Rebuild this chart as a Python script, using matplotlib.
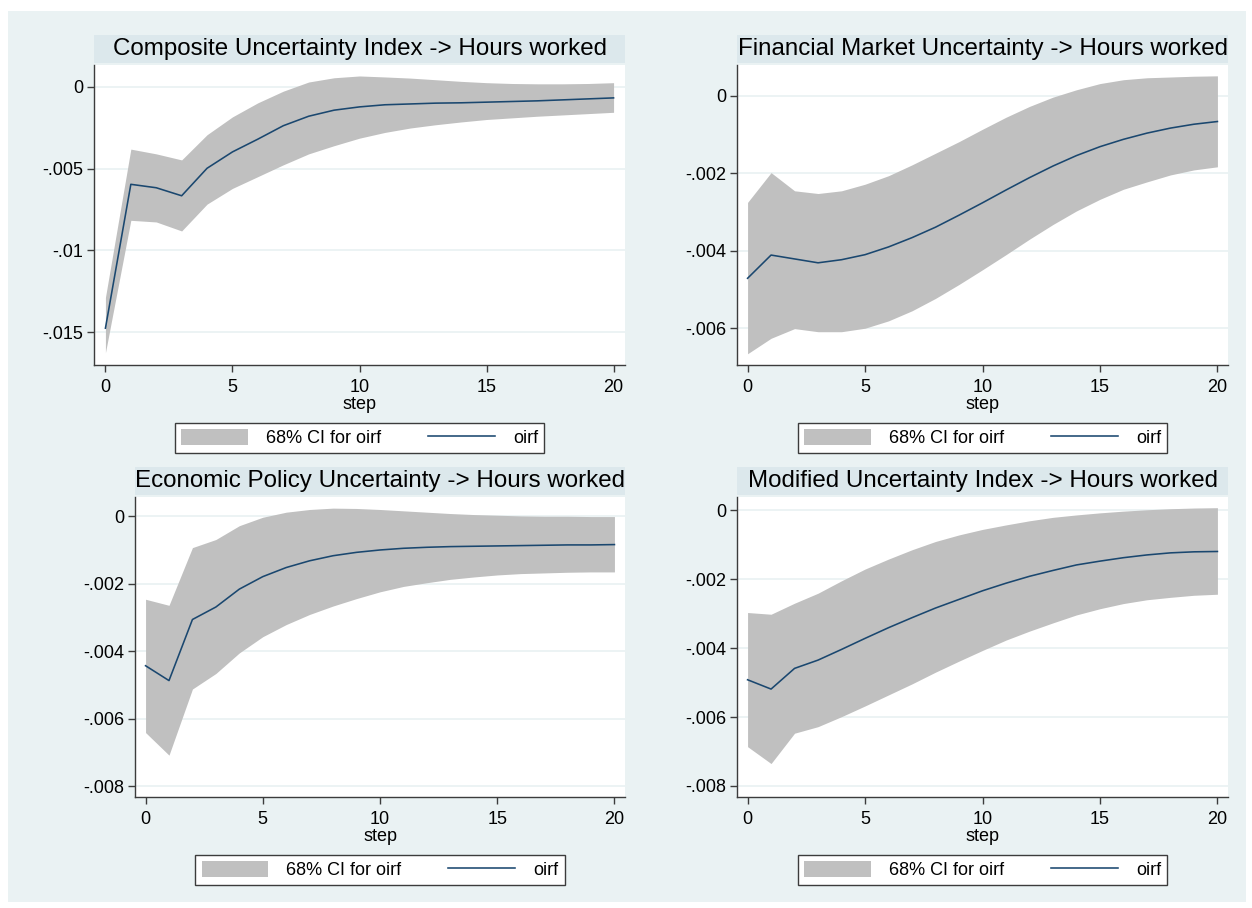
import numpy as np
import matplotlib.pyplot as plt
from matplotlib.patches import Rectangle
from matplotlib.ticker import FuncFormatter

plt.rcParams['font.family'] = ['Liberation Sans', 'DejaVu Sans']

steps = list(range(21))

titles = ['Composite Uncertainty Index -> Hours worked',
          'Financial Market Uncertainty -> Hours worked',
          'Economic Policy Uncertainty -> Hours worked',
          'Modified Uncertainty Index -> Hours worked']

# composite uncertainty index
oirf_cui = [-0.01475, -0.00596, -0.00617, -0.00666, -0.00498, -0.00398, -0.0032, -0.00238, -0.0018, -0.00143,
            -0.00123, -0.0011, -0.00105, -0.001, -0.00098, -0.00094, -0.0009, -0.00086, -0.0008, -0.00074, -0.00068]
upper_cui = [-0.01287, -0.00381, -0.0041, -0.00447, -0.00293, -0.00184, -0.00098, -0.00027, 0.00029, 0.00055,
             0.00066, 0.0006, 0.00053, 0.00043, 0.00033, 0.00025, 0.0002, 0.00018, 0.00018, 0.0002, 0.00025]
lower_cui = [-0.01625, -0.00816, -0.00826, -0.00881, -0.00717, -0.00621, -0.00549, -0.00477, -0.0041, -0.0036,
             -0.00314, -0.00279, -0.00252, -0.00232, -0.00215, -0.002, -0.0019, -0.0018, -0.00172, -0.00164, -0.00156]

# financial market uncertainty
oirf_fmu = [-0.00471, -0.00411, -0.00421, -0.00431, -0.00423, -0.0041, -0.0039, -0.00366, -0.00339, -0.00308,
            -0.00276, -0.00243, -0.00211, -0.00181, -0.00154, -0.00131, -0.00112, -0.00096, -0.00083, -0.00073, -0.00066]
upper_fmu = [-0.00275, -0.00198, -0.00245, -0.00252, -0.00245, -0.00228, -0.00206, -0.00178, -0.00148, -0.00118,
             -0.00086, -0.00055, -0.00027, -0.00003, 0.00016, 0.00032, 0.00042, 0.00047, 0.00049, 0.00051, 0.00052]
lower_fmu = [-0.00666, -0.00626, -0.00601, -0.00609, -0.00609, -0.006, -0.00581, -0.00555, -0.00523, -0.00487,
             -0.00449, -0.0041, -0.0037, -0.00332, -0.00297, -0.00267, -0.00241, -0.00222, -0.00204, -0.00191, -0.00183]

# economic policy uncertainty
oirf_epu = [-0.00443, -0.00487, -0.00306, -0.00269, -0.00216, -0.00179, -0.00152, -0.00132, -0.00117, -0.00107,
            -0.001, -0.00095, -0.00092, -0.0009, -0.00089, -0.00088, -0.00087, -0.00086, -0.00085, -0.00085, -0.00084]
upper_epu = [-0.00246, -0.00264, -0.00093, -0.00069, -0.00028, -0.00003, 0.00012, 0.0002, 0.00024, 0.00023,
             0.0002, 0.00016, 0.00012, 0.00008, 0.00005, 0.00003, 0.00001, 0.0, 0.0, -0.00001, -0.00001]
lower_epu = [-0.00641, -0.00708, -0.00512, -0.00466, -0.00405, -0.00357, -0.00321, -0.00291, -0.00266, -0.00244,
             -0.00224, -0.00208, -0.00197, -0.00187, -0.0018, -0.00174, -0.0017, -0.00168, -0.00166, -0.00165, -0.00165]

# modified uncertainty index
oirf_mui = [-0.00492, -0.00519, -0.00459, -0.00435, -0.00404, -0.00372, -0.00341, -0.00312, -0.00284, -0.00259,
            -0.00234, -0.00212, -0.00192, -0.00175, -0.00159, -0.00148, -0.00138, -0.0013, -0.00124, -0.00121, -0.0012]
upper_mui = [-0.00297, -0.00302, -0.0027, -0.00241, -0.00205, -0.00171, -0.00142, -0.00115, -0.00091, -0.00072,
             -0.00056, -0.00043, -0.00031, -0.00021, -0.00014, -0.00008, -0.00003, 0.00001, 0.00004, 0.00006, 0.00007]
lower_mui = [-0.00686, -0.00735, -0.00647, -0.00628, -0.00599, -0.00568, -0.00536, -0.00504, -0.0047, -0.00438,
             -0.00407, -0.00377, -0.00351, -0.00327, -0.00304, -0.00286, -0.00271, -0.0026, -0.00253, -0.00247, -0.00244]

oirfs = [oirf_cui, oirf_fmu, oirf_epu, oirf_mui]
uppers = [upper_cui, upper_fmu, upper_epu, upper_mui]
lowers = [lower_cui, lower_fmu, lower_epu, lower_mui]
yticks = [[0, -0.005, -0.01, -0.015],
          [0, -0.002, -0.004, -0.006],
          [0, -0.002, -0.004, -0.006, -0.008],
          [0, -0.002, -0.004, -0.006, -0.008]]
ylims = [(-0.0170, 0.00133), (-0.00695, 0.0008), (-0.00832, 0.00057), (-0.00832, 0.00038)]

W, H = 1252, 908
# axes boxes in pixels: left, top, right, bottom
boxes = [(94, 65, 625, 365), (737, 65, 1228, 365), (135, 497, 625, 797), (737, 497, 1228, 797)]
legend_y = [438, 438, 870, 870]

bg = '#eaf2f3'
fig = plt.figure(figsize=(W / 100, H / 100), dpi=100, facecolor='white')
fig.add_artist(Rectangle((8 / W, 1 - 902 / H), 1238 / W, 891 / H, transform=fig.transFigure,
                         facecolor=bg, edgecolor='none', zorder=-10))


def stata_fmt(v, pos):
    if abs(v) < 1e-12:
        return '0'
    s = ('%.3f' % v).rstrip('0').rstrip('.')
    return s.replace('0.', '.')


for k in range(4):
    l, t, r, b = boxes[k]
    ax = fig.add_axes([l / W, 1 - b / H, (r - l) / W, (b - t) / H])
    ax.set_facecolor('white')
    ax.fill_between(steps, lowers[k], uppers[k], color='#c0c0c0', linewidth=0, label='68% CI for oirf')
    ax.plot(steps, oirfs[k], color='#1a476f', linewidth=1.15, label='oirf')
    ax.set_xlim(-0.45, 20.45)
    ax.set_ylim(*ylims[k])
    ax.set_xticks([0, 5, 10, 15, 20])
    ax.set_yticks(yticks[k])
    ax.yaxis.set_major_formatter(FuncFormatter(stata_fmt))
    ax.grid(axis='y', color=bg, linewidth=1.3)
    ax.set_axisbelow(True)
    for s in ['top', 'right']:
        ax.spines[s].set_visible(False)
    for s in ['left', 'bottom']:
        ax.spines[s].set_color('#3c3c3c')
        ax.spines[s].set_linewidth(1.0)
    ax.tick_params(axis='both', length=5, width=1.0, color='#3c3c3c', labelsize=13)
    ax.tick_params(axis='x', pad=5)
    ax.tick_params(axis='y', pad=3)
    ax.set_xlabel('step', fontsize=13, labelpad=0)

    # title band
    fig.add_artist(Rectangle((l / W, 1 - (t - 2) / H), (r - l) / W, 28 / H, transform=fig.transFigure,
                             facecolor='#dce8ec', edgecolor='none', zorder=-5))
    fig.text((l + r) / 2 / W, 1 - (t - 16) / H, titles[k], ha='center', va='center', fontsize=17.4)

    cx = (ax.transData.transform((10, 0))[0]) / W
    leg = ax.legend(loc='center', bbox_to_anchor=(cx, 1 - legend_y[k] / H), bbox_transform=fig.transFigure,
                    ncol=2, fontsize=13, frameon=True, fancybox=False, edgecolor='#3c3c3c',
                    facecolor='white', framealpha=1.0,
                    handlelength=3.7, handleheight=1.0, handletextpad=1.0, columnspacing=2.6,
                    borderpad=0.35, borderaxespad=0)
    leg.get_frame().set_linewidth(1.0)

plt.savefig('out.png', dpi=100, facecolor='white')
